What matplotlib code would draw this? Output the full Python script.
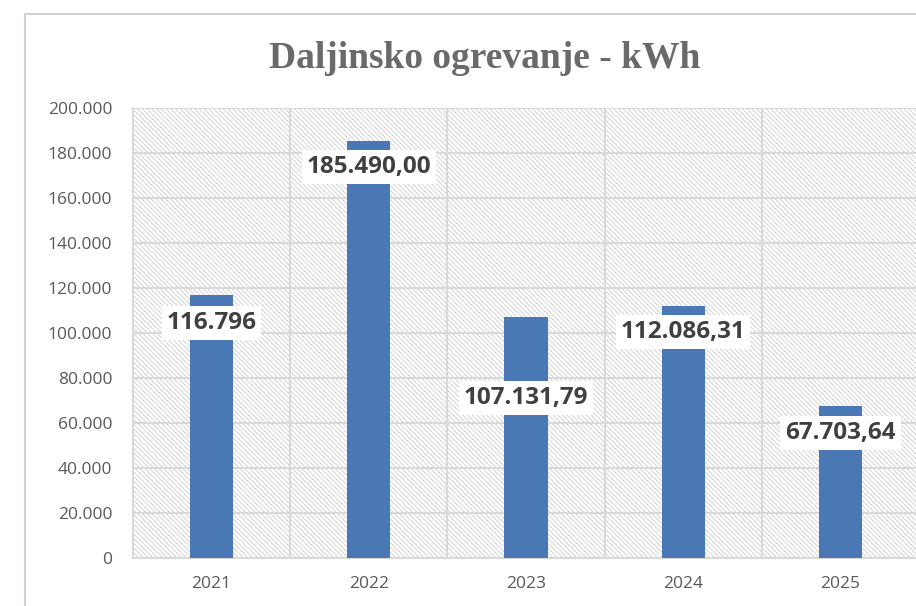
import matplotlib
matplotlib.use("Agg")
import matplotlib.pyplot as plt
import numpy as np
from matplotlib.patches import Rectangle
from matplotlib.ticker import FuncFormatter, MultipleLocator

years = ["2021", "2022", "2023", "2024", "2025"]
kwh = [116796, 185490.00, 107131.79, 112086.31, 67703.64]
value_labels = ["116.796", "185.490,00", "107.131,79", "112.086,31", "67.703,64"]

plt.rcParams['hatch.color'] = '#cccccc'
plt.rcParams['hatch.linewidth'] = 0.6

fig = plt.figure(figsize=(9.16, 6.06), dpi=100)

# outer chart frame (cropped on the right side)
fig.patches.append(Rectangle((25 / 916, -0.01), 1.0, 1 - 14 / 606 + 0.01,
                             transform=fig.transFigure, fill=False,
                             edgecolor='#d0d0d0', linewidth=1.5))

ax = fig.add_axes([133 / 916, 1 - 558 / 606, (919 - 133) / 916, (558 - 108) / 606])

# hatched plot background
ax.add_patch(Rectangle((0, 0), 1, 1, transform=ax.transAxes, facecolor='white',
                       edgecolor='#cccccc', hatch='\\\\\\\\\\\\\\', linewidth=0, zorder=0))

x = np.arange(len(years))
bars = ax.bar(x, kwh, width=0.275, color='#4a78b4', zorder=3)

ax.set_xlim(-0.5, len(years) - 0.5)
ax.set_ylim(0, 200000)
ax.yaxis.set_major_locator(MultipleLocator(20000))
ax.yaxis.set_major_formatter(FuncFormatter(lambda v, p: f"{v:,.0f}".replace(",", ".")))
ax.set_xticks(x)
ax.set_xticklabels(years)
ax.set_xticks(x[:-1] + 0.5, minor=True)

ax.grid(axis='y', which='major', color='#d9d9d9', linewidth=1.5, zorder=1)
ax.grid(axis='x', which='minor', color='#d9d9d9', linewidth=1.5, zorder=1)
ax.set_axisbelow(True)

for s in ['top', 'right']:
    ax.spines[s].set_visible(False)
for s in ['left', 'bottom']:
    ax.spines[s].set_color('#d9d9d9')
    ax.spines[s].set_linewidth(1.5)

ax.tick_params(axis='both', which='both', length=0, colors='#595959', labelsize=12.5)
ax.tick_params(axis='y', pad=15)
ax.tick_params(axis='x', pad=13)
for t in ax.get_xticklabels() + ax.get_yticklabels():
    t.set_family('Open Sans')

# data labels, placed a little below the top of each bar
label_drop = [12400, 11700, 36000, 11700, 12100]
for xi, v, txt, d in zip(x, kwh, value_labels, label_drop):
    ax.text(xi, v - d, txt, ha='center', va='center', fontsize=17.5, fontweight='bold',
            color='#404040', family='Open Sans', zorder=5,
            bbox=dict(boxstyle='square,pad=0.2', facecolor='white', edgecolor='none'))

fig.text(485 / 916, 1 - 58 / 606, "Daljinsko ogrevanje - kWh", ha='center', va='center',
         fontsize=27, fontweight='bold', color='#6a6a6a', family='Liberation Serif')

fig.savefig("out.png", dpi=100)
